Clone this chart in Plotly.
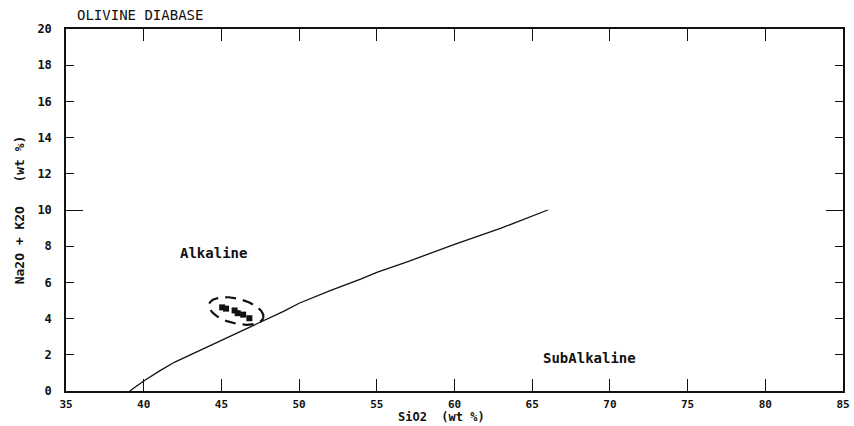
import numpy as np
import plotly.graph_objects as go

# Irvine & Baragar alkaline / subalkaline dividing curve
boundary_sio2 = [39.1, 40.0, 41.0, 42.0, 43.0, 44.0, 45.0, 46.0, 47.0, 48.0, 49.0,
                 50.0, 52.0, 54.0, 55.0, 57.0, 60.0, 63.0, 66.0]
boundary_alk = [0.0, 0.55, 1.1, 1.6, 2.0, 2.4, 2.8, 3.2, 3.6, 4.0, 4.4,
                4.85, 5.55, 6.2, 6.55, 7.15, 8.1, 9.0, 10.0]

# Olivine diabase analyses
sample_sio2 = [45.05, 45.3, 45.85, 46.05, 46.4, 46.8]
sample_alk = [4.62, 4.55, 4.45, 4.3, 4.22, 4.02]

# Dashed envelope around the analyses (centre, semi-axes, tilt in degrees)
env_center = (45.95, 4.42)
env_semi = (1.8, 0.8)
env_tilt = -14

field_labels = ["Alkaline", "SubAlkaline"]
field_x = [44.5, 68.7]
field_y = [7.65, 1.85]

x_range = [35, 85]
y_range = [0, 20]
x_ticks = list(range(35, 86, 5))
y_ticks = list(range(0, 21, 2))

MONO = "DejaVu Sans Mono"
INK = "#111111"

# pixel-per-unit ratio so the envelope tilt looks right on screen
px_per_x = 777 / (x_range[1] - x_range[0])
px_per_y = 362 / (y_range[1] - y_range[0])
t = np.linspace(0, 2 * np.pi, 241)
a = np.radians(env_tilt)
ex_px = env_semi[0] * px_per_x * np.cos(t)
ey_px = env_semi[1] * px_per_x * np.sin(t)
rx = ex_px * np.cos(a) - ey_px * np.sin(a)
ry = ex_px * np.sin(a) + ey_px * np.cos(a)
env_x = env_center[0] + rx / px_per_x
env_y = env_center[1] + ry / px_per_y


def mono(size, bold=True):
    return dict(family=MONO, size=size, color=INK, weight="bold" if bold else "normal")


fig = go.Figure()

fig.add_trace(go.Scatter(
    x=boundary_sio2, y=boundary_alk, mode="lines",
    line=dict(color=INK, width=1.3), hoverinfo="skip", showlegend=False))

fig.add_trace(go.Scatter(
    x=env_x, y=env_y, mode="lines",
    line=dict(color=INK, width=2.2, dash="11px,7px"), hoverinfo="skip", showlegend=False))

fig.add_trace(go.Scatter(
    x=sample_sio2, y=sample_alk, mode="markers",
    marker=dict(symbol="square", size=6, color=INK), showlegend=False))

# secondary axis carrying the long tick at 10 on both sides
fig.add_trace(go.Scatter(x=[None], y=[None], yaxis="y2", showlegend=False, hoverinfo="skip"))

for txt, fx, fy in zip(field_labels, field_x, field_y):
    fig.add_annotation(x=fx, y=fy, text=txt, showarrow=False, font=mono(14))

# x-axis title placed just below the tick labels
fig.add_annotation(xref="paper", yref="paper", x=(441 - 66) / 777, y=-26 / 362,
                   xanchor="center", yanchor="middle", text="SiO2  (wt %)",
                   showarrow=False, font=mono(12))

fig.update_layout(
    width=854, height=426,
    margin=dict(l=66, r=11, t=29, b=35),
    paper_bgcolor="white", plot_bgcolor="white",
    title=dict(text="OLIVINE DIABASE", x=77 / 854, xanchor="left",
               y=1 - 15 / 426, yanchor="middle", font=mono(14, bold=False)),
    xaxis=dict(range=x_range, tickvals=x_ticks, ticks="inside", ticklen=12,
               tickwidth=1.3, tickcolor=INK, showline=True, linecolor=INK,
               linewidth=1.5, mirror="ticks", showgrid=False, zeroline=False,
               automargin=False, ticklabelstandoff=2, tickfont=mono(11)),
    yaxis=dict(range=y_range, tickvals=y_ticks, ticks="inside", ticklen=8,
               tickwidth=1.3, tickcolor=INK, showline=True, linecolor=INK,
               linewidth=1.5, mirror="ticks", showgrid=False, zeroline=False,
               automargin=False, ticklabelstandoff=10, tickfont=mono(12),
               title=dict(text="Na2O + K2O   (wt %)", standoff=10, font=mono(13))),
    yaxis2=dict(range=y_range, overlaying="y", tickvals=[10], ticks="inside",
                ticklen=17, tickwidth=1.3, tickcolor=INK, showticklabels=False,
                showline=False, mirror="ticks", showgrid=False, zeroline=False,
                automargin=False, side="left"),
)

fig.write_html("out.html")
